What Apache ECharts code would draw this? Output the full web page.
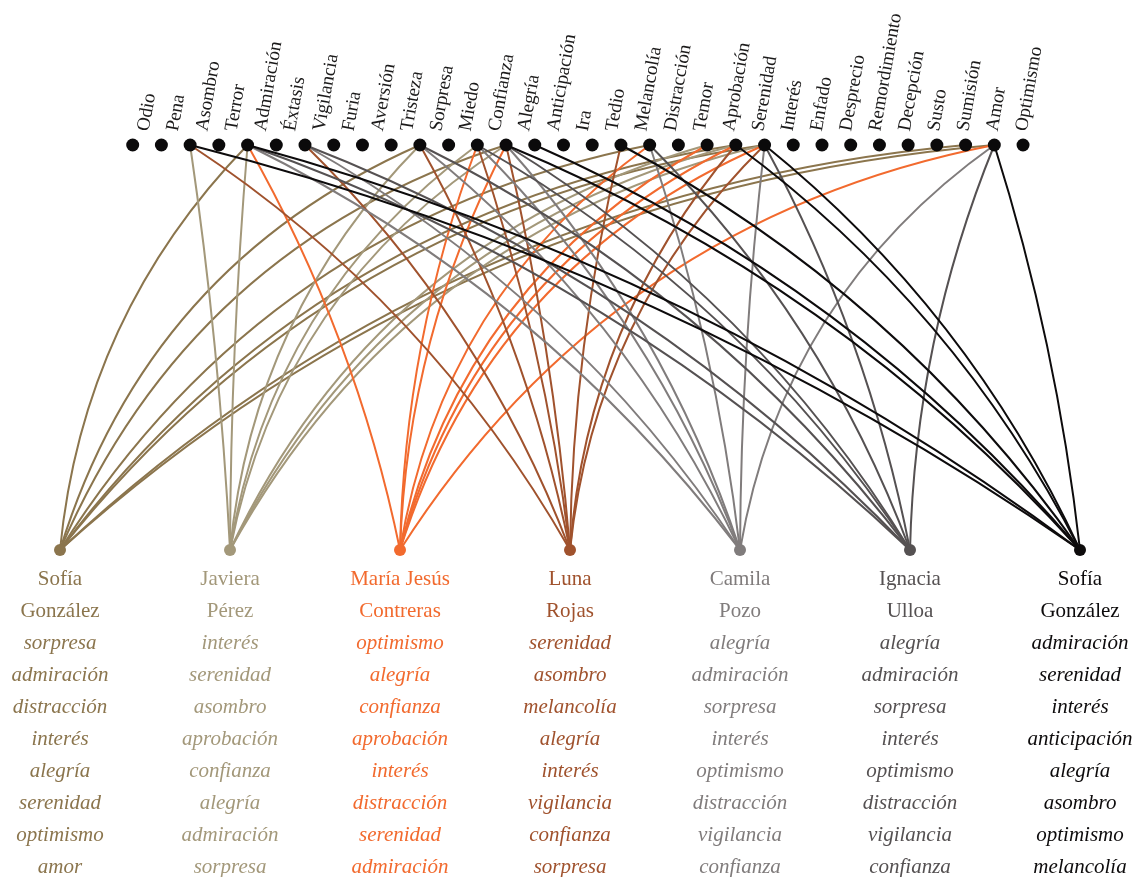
<!DOCTYPE html>
<html><head><meta charset="utf-8">
<script src="https://cdn.jsdelivr.net/npm/echarts@6/dist/echarts.min.js"></script>
<style>html,body{margin:0;padding:0;background:#fff}#c{width:1132px;height:877px}</style>
</head><body><div id="c"></div>
<script>
// ---- data ----
const emotions = ['Odio','Pena','Asombro','Terror','Admiración','Éxtasis','Vigilancia','Furia','Aversión','Tristeza','Sorpresa','Miedo','Confianza','Alegría','Anticipación','Ira','Tedio','Melancolía','Distracción','Temor','Aprobación','Serenidad','Interés','Enfado','Desprecio','Remordimiento','Decepción','Susto','Sumisión','Amor','Optimismo',''];
const firstNames = ['Sofía','Javiera','María Jesús','Luna','Camila','Ignacia','Sofía'];
const lastNames = ['González','Pérez','Contreras','Rojas','Pozo','Ulloa','González'];
const sofiaGonzalez1 = ['sorpresa','admiración','distracción','interés','alegría','serenidad','optimismo','amor'];
const javieraPerez = ['interés','serenidad','asombro','aprobación','confianza','alegría','admiración','sorpresa'];
const mariaJesusContreras = ['optimismo','alegría','confianza','aprobación','interés','distracción','serenidad','admiración'];
const lunaRojas = ['serenidad','asombro','melancolía','alegría','interés','vigilancia','confianza','sorpresa'];
const camilaPozo = ['alegría','admiración','sorpresa','interés','optimismo','distracción','vigilancia','confianza'];
const ignaciaUlloa = ['alegría','admiración','sorpresa','interés','optimismo','distracción','vigilancia','confianza'];
const sofiaGonzalez2 = ['admiración','serenidad','interés','anticipación','alegría','asombro','optimismo','melancolía'];
const personEmotions = [sofiaGonzalez1, javieraPerez, mariaJesusContreras, lunaRojas, camilaPozo, ignaciaUlloa, sofiaGonzalez2];
const personColors = ['#8b754d','#a3987a','#f26a2e','#a0522d','#807c7c','#555152','#0d0b0c'];

// ---- layout (scale setup) ----
const W = 1132, H = 877;
const X_MIN = -4, X_MAX = 34;
const GRID = {left: 17.8, right: 22.8, top: 145, bottom: 327};
const PERSON_X0 = -2.53, PERSON_STEP = 5.919;
const LABEL_DRIFT = 0.55;   // label scale is slightly wider than the dot scale
const pxPerX = (W - GRID.left - GRID.right) / (X_MAX - X_MIN);
const pxPerY = H - GRID.top - GRID.bottom;
const FONT = 'Liberation Serif';

const nodes = [];
emotions.forEach((e, i) => {
  nodes.push({
    id: 'e' + i, name: e, value: [i, 1], symbolSize: 13,
    itemStyle: {color: '#0b0a0b'},
    label: {show: e !== '', position: [17.5 + i * LABEL_DRIFT, -7.5], rotate: 80, align: 'left', verticalAlign: 'middle',
      fontFamily: FONT, fontSize: 19, color: '#1b1a1a', formatter: '{b}'}
  });
});
firstNames.forEach((fn, j) => {
  const lines = ['{n|' + fn + '}', '{n|' + lastNames[j] + '}'].concat(personEmotions[j].map(s => '{i|' + s + '}'));
  nodes.push({
    id: 'p' + j, name: fn + ' ' + lastNames[j], value: [PERSON_X0 + j * PERSON_STEP, 0], symbolSize: 12,
    itemStyle: {color: personColors[j]},
    label: {show: true, position: 'bottom', distance: 7, align: 'center',
      formatter: lines.join('\n'),
      rich: {
        n: {fontFamily: FONT, fontSize: 21, color: personColors[j], lineHeight: 32},
        i: {fontFamily: FONT, fontSize: 21, fontStyle: 'italic', color: personColors[j], lineHeight: 32}
      }}
  });
});

const links = [];
personEmotions.forEach((list, j) => {
  const px = PERSON_X0 + j * PERSON_STEP;
  list.forEach(em => {
    const idx = emotions.findIndex(e => e.toLowerCase() === em.toLowerCase());
    const dx = (idx - px) * pxPerX, dy = pxPerY;
    const d2 = dx * dx + dy * dy;
    const leftFirst = px < idx;
    const k = leftFirst ? 0.23 : 0.12;
    const curv = k * 2 * Math.abs(dx) * dy / d2;
    links.push({
      source: leftFirst ? 'p' + j : 'e' + idx,
      target: leftFirst ? 'e' + idx : 'p' + j,
      lineStyle: {color: personColors[j], width: 2, curveness: curv, opacity: 1}
    });
  });
});

const chart = echarts.init(document.getElementById('c'), null, {renderer: 'canvas'});
chart.setOption({
  animation: false,
  backgroundColor: '#ffffff',
  grid: GRID,
  xAxis: {type: 'value', min: X_MIN, max: X_MAX, show: false},
  yAxis: {type: 'value', min: 0, max: 1, show: false},
  series: [{
    type: 'graph', coordinateSystem: 'cartesian2d', layout: 'none',
    data: nodes, links: links, edgeSymbol: ['none', 'none'],
    silent: true, emphasis: {disabled: true},
    lineStyle: {width: 2, opacity: 1}
  }]
});
</script></body></html>
